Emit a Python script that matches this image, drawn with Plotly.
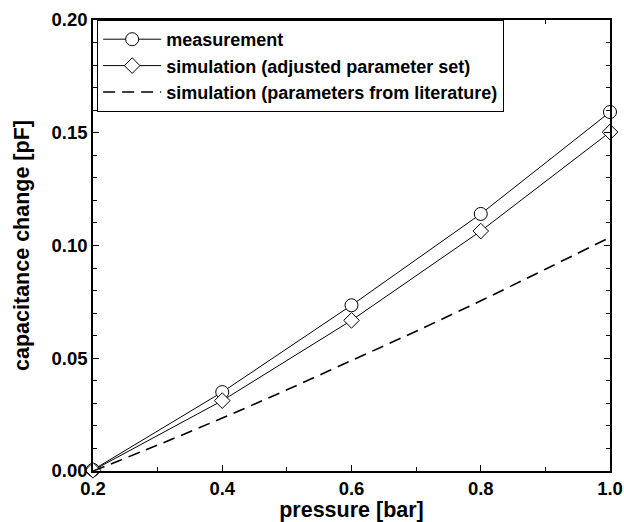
import plotly.graph_objects as go

pressure = [0.2, 0.4, 0.6, 0.8, 1.0]
measurement = [0.0005, 0.035, 0.0735, 0.114, 0.1592]
sim_adjusted = [0.0003, 0.0312, 0.0668, 0.1064, 0.1503]
lit_pressure = [0.2, 0.3, 0.4, 0.5, 0.6, 0.7, 0.8, 0.9, 1.0]
sim_literature = [0.0, 0.0115, 0.0235, 0.036, 0.049, 0.062, 0.0755, 0.0895, 0.1036]

x_ticks = [0.2, 0.4, 0.6, 0.8, 1.0]
y_ticks = [0.00, 0.05, 0.10, 0.15, 0.20]

fig = go.Figure()
fig.add_trace(go.Scatter(
    x=pressure, y=measurement, mode="lines+markers", name="measurement",
    line=dict(color="black", width=1),
    marker=dict(symbol="circle", size=13, color="white", line=dict(color="black", width=1)),
    cliponaxis=False))
fig.add_trace(go.Scatter(
    x=pressure, y=sim_adjusted, mode="lines+markers", name="simulation (adjusted parameter set)",
    line=dict(color="black", width=1),
    marker=dict(symbol="diamond", size=12, color="white", line=dict(color="black", width=1)),
    cliponaxis=False))
fig.add_trace(go.Scatter(
    x=lit_pressure, y=sim_literature, mode="lines", name="simulation (parameters from literature)",
    line=dict(color="black", width=1.6, dash="12px,7px", shape="spline")))

axis_common = dict(
    showline=True, linecolor="black", linewidth=1.5, mirror="allticks",
    ticks="inside", ticklen=6, tickwidth=1, tickcolor="black",
    showgrid=False, zeroline=False, automargin=False,
    tickfont=dict(size=18.5, color="black"),
)

fig.update_layout(
    width=624, height=522,
    margin=dict(l=93, r=14, t=20, b=51),
    paper_bgcolor="white", plot_bgcolor="white",
    font=dict(family="Liberation Sans, Arial, sans-serif", weight="bold", color="black"),
    showlegend=True,
    legend=dict(
        x=0.008, y=1.0, xanchor="left", yanchor="top",
        bgcolor="white", bordercolor="black", borderwidth=1,
        font=dict(size=18, color="black"),
        tracegroupgap=0, itemwidth=58,
    ),
    xaxis=dict(
        range=[0.2, 1.0], tickvals=x_ticks, ticktext=[f"{v:.1f}" for v in x_ticks],
        minor=dict(dtick=0.1, tick0=0.2, ticks="inside", ticklen=4, tickcolor="black"),
        title=dict(text="pressure [bar]", font=dict(size=21.5), standoff=0),
        **axis_common),
    yaxis=dict(
        range=[0, 0.2], tickvals=y_ticks, ticktext=[f"{v:.2f}" for v in y_ticks],
        minor=dict(dtick=0.01, tick0=0, ticks="inside", ticklen=4, tickcolor="black"),
        title=dict(text="capacitance change [pF]", font=dict(size=21.5), standoff=16),
        **axis_common),
)

fig.write_html("out.html")
